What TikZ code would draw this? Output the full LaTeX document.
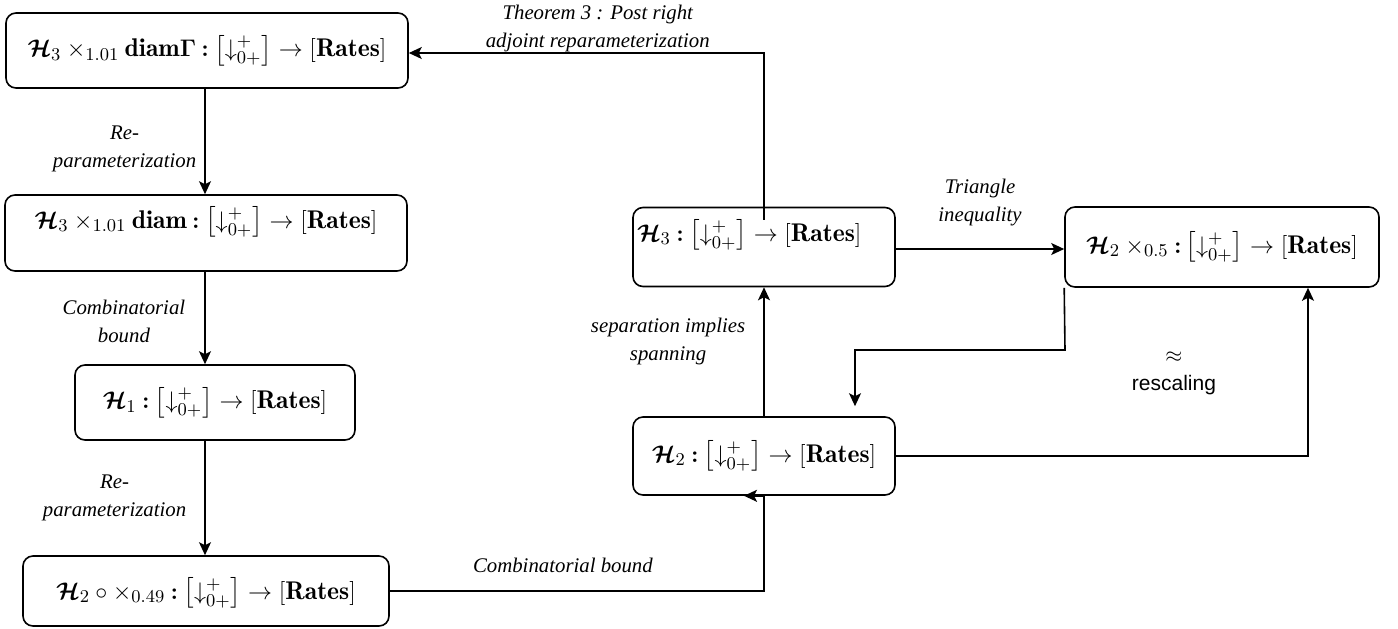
\documentclass[tikz,border=0pt]{standalone}
\usepackage{amsmath,amssymb,bm}
\usepackage{fontspec}
\newfontfamily\labfont{Liberation Serif}
\newfontfamily\sansfont{Liberation Sans}
\usetikzlibrary{calc,arrows.meta,positioning}

\newcommand{\bH}{\boldsymbol{\mathcal{H}}}
\newcommand{\sig}{\mathbin{\boldsymbol{:}}\left[\downarrow^{+}_{0+}\right]\to[\mathbf{Rates}]}

\tikzset{
  box/.style={draw, line width=0.8pt, rounded corners=5pt, inner sep=0pt,
    font=\fontsize{12.8}{14}\selectfont},
  lab/.style={font=\labfont\itshape\fontsize{10.4}{14}\selectfont, align=center, inner sep=1pt},
  arr/.style={line width=0.8pt, -{Stealth[length=6.5pt,width=6pt,inset=1.5pt]}},
}

\begin{document}
\begin{tikzpicture}[x=0.5pt,y=0.5pt,yscale=-1,xscale=1]
  \useasboundingbox (0,0) rectangle (1398,628);

  % left column
  \node[box, minimum width=201pt, minimum height=37.5pt] (diamG) at (207,50.5)
    {$\bH_3 \times_{1.01} \mathbf{diam}\boldsymbol{\Gamma} \sig$};
  \node[box, minimum width=201pt, minimum height=38pt, text height=9pt, text depth=14pt] (diam) at (206,233)
    {$\bH_3 \times_{1.01} \mathbf{diam} \sig$};
  \node[box, minimum width=140pt, minimum height=37.5pt] (Hone) at (215,402.5)
    {$\bH_1 \sig$};
  \node[box, minimum width=183pt, minimum height=35pt, text height=9pt, text depth=1pt] (Hcomp) at (206,591)
    {$\bH_2 \circ \times_{0.49} \sig$};

  % right part
  \node[box, minimum width=131pt, minimum height=39.5pt, text width=127pt, align=left,
    text height=9pt, text depth=15pt] (Hthree) at (764,247)
    {$\bH_3 \sig$};
  \node[box, minimum width=157pt, minimum height=40pt] (Hhalf) at (1222,247)
    {$\bH_2 \times_{0.5} \sig$};
  \node[box, minimum width=131pt, minimum height=39pt] (Htwo) at (764,456)
    {$\bH_2 \sig$};

  % connectors left column
  \draw[arr] (diamG.south -| 205,0) -- node[lab, left=3pt, yshift=-3.5pt] {Re-\\parameterization} (diam.north -| 205,0);
  \draw[arr] (diam.south -| 205,0) -- node[lab, left=8.5pt, yshift=-1.5pt] {Combinatorial\\bound} (Hone.north -| 205,0);
  \draw[arr] (Hone.south -| 205,0) -- node[lab, left=8pt] {Re-\\parameterization} (Hcomp.north -| 205,0);

  % bottom and right
  \coordinate (Hin) at ($(Htwo.south)+(-10pt,0)$);
  \draw[arr] (Hcomp.east) -- node[lab, above=7.5pt, xshift=-7pt] {Combinatorial bound} (Hcomp.east -| Htwo.south)
    -- (Htwo.south) -- (Hin);
  \draw[arr] (Htwo.north) -- node[lab, left=8pt, yshift=5pt] {separation implies\\spanning} (Hthree.south);
  \coordinate (Hout) at ($(Hthree.north)+(0,6.5pt)$);
  \draw[arr] (Hout) |- node[lab, above=0pt, yshift=-1pt, pos=0.734] {Theorem 3 : Post right\\adjoint reparameterization} (diamG.east |- 0,53);
  \draw[arr] (Hthree.east |- 0,249) -- node[lab, above=10pt] {Triangle\\inequality} (Hhalf.west |- 0,249);
  \draw[arr] (Hhalf.south west) -- (1065,350) -| ($(Htwo.north -| 855,0)+(0,-5pt)$);
  \draw[arr] (Htwo.east) -| (Hhalf.south -| 1308,0);
  \node[font=\sansfont\fontsize{10.5}{12}\selectfont, align=center] (resc) at (1174,373) {$\approx$\\[2pt]rescaling};
\end{tikzpicture}
\end{document}
